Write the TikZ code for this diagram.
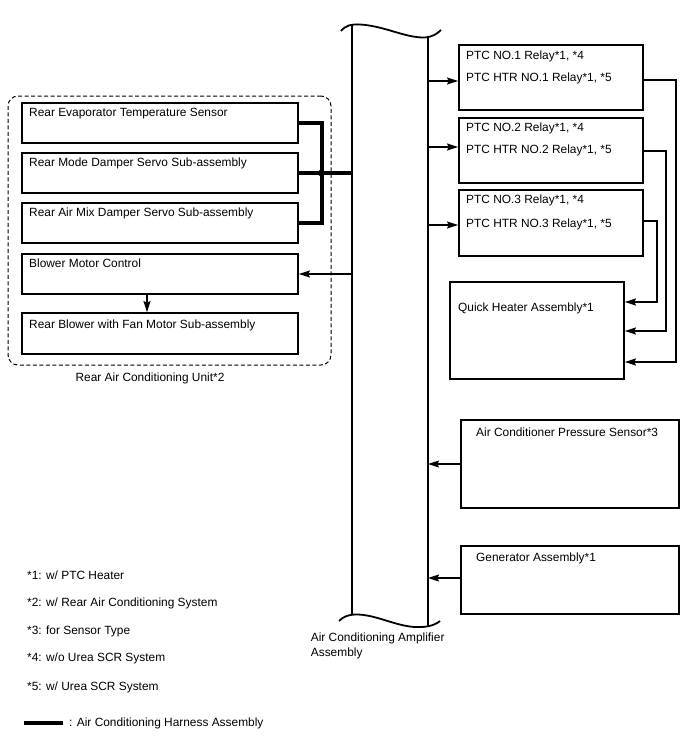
\documentclass[tikz,border=0pt]{standalone}
\usepackage{fontspec}
\setmainfont{Liberation Sans}
\usetikzlibrary{arrows.meta,intersections,calc}
\tikzset{
  box/.style={draw, line width=1.8pt, inner sep=0pt},
  txt/.style={anchor=base west, inner sep=0pt, font=\fontsize{11.9}{14}\selectfont},
  conn/.style={line width=1.2pt},
  arr/.style={conn, -{Stealth[length=11pt,width=7pt,inset=1.5pt]}},
  harness/.style={line width=4pt},
  ampline/.style={line width=1.8pt},
}
\begin{document}
\begin{tikzpicture}[x=1pt,y=-1pt]
\useasboundingbox (0,0) rectangle (688,755);

% ---- Rear air conditioning unit ----
\node[draw, line width=1pt, dash pattern=on 4pt off 2.5pt, rounded corners=10pt,
      minimum width=323, minimum height=269, inner sep=0pt] (unit) at (169.5,230.5) {};
\node[txt, anchor=base] (unitt) at (150,381) {Rear Air Conditioning Unit*2};

\node[box, minimum width=276, minimum height=40] (res) at (160,123) {};
\node[txt] (rest) at (29,116.6) {Rear Evaporator Temperature Sensor};
\node[box, minimum width=276, minimum height=40] (rmd) at (160,173) {};
\node[txt] (rmdt) at (29,166.6) {Rear Mode Damper Servo Sub-assembly};
\node[box, minimum width=276, minimum height=40] (ram) at (160,223) {};
\node[txt] (ramt) at (29,216.6) {Rear Air Mix Damper Servo Sub-assembly};
\node[box, minimum width=276, minimum height=40] (bmc) at (160,274) {};
\node[txt] (bmct) at (29,267) {Blower Motor Control};
\node[box, minimum width=276, minimum height=41] (rbf) at (160,333.5) {};
\node[txt] (rbft) at (29,328.6) {Rear Blower with Fan Motor Sub-assembly};

% ---- amplifier ----
\coordinate (ampL) at (352,0);
\coordinate (ampR) at (428,0);
\path[name path=Lv] (352,0) -- (352,755);
\path[name path=Rv] (428,0) -- (428,755);
\draw[ampline, name path=topw] (341,31) .. controls (346,25) and (352,24) .. (360,24.5)
   .. controls (385,26) and (405,38) .. (425,37.5) .. controls (432,37) and (437,34) .. (441,30);
\draw[ampline, name path=botw] (339,621) .. controls (343,617) and (347,615) .. (355,614.5)
   .. controls (375,614) and (395,626) .. (415,627) .. controls (425,627.5) and (434,626) .. (440,621);
\path[name intersections={of=Lv and topw, by=LT}];
\path[name intersections={of=Lv and botw, by=LB}];
\path[name intersections={of=Rv and topw, by=RT}];
\path[name intersections={of=Rv and botw, by=RB}];
\draw[ampline] (LT) -- (LB);
\draw[ampline] (RT) -- (RB);
\node[txt] (ampt1) at (310.7,641) {Air Conditioning Amplifier};
\node[txt] (ampt2) at (310.7,656) {Assembly};

% ---- harness ----
\coordinate (jn) at (321.5,173);
\draw[harness] (res.east) -| (jn) |- (ram.east);
\draw[harness] (rmd.east) -- (ampL |- rmd.east);
\fill (jn) circle (3.5);

% blower
\draw[arr] (ampL |- bmc.east) -- (bmc.east);
\draw[arr] ($(bmc.south)+(-13,0)$) -- ($(rbf.north)+(-13,0)$);

% ---- PTC relays ----
\node[box, minimum width=184, minimum height=65] (ptc1) at (551,77.5) {};
\node[txt] (ptc1a) at (466,59.3) {PTC NO.1 Relay*1, *4};
\node[txt] (ptc1b) at (466,81.3) {PTC HTR NO.1 Relay*1, *5};
\node[box, minimum width=184, minimum height=65] (ptc2) at (551,150.5) {};
\node[txt] (ptc2a) at (466,131) {PTC NO.2 Relay*1, *4};
\node[txt] (ptc2b) at (466,153.6) {PTC HTR NO.2 Relay*1, *5};
\node[box, minimum width=184, minimum height=66] (ptc3) at (551,223) {};
\node[txt] (ptc3a) at (466,203.6) {PTC NO.3 Relay*1, *4};
\node[txt] (ptc3b) at (466,227.6) {PTC HTR NO.3 Relay*1, *5};

\coordinate (i1) at (428,81);
\coordinate (i2) at (428,147);
\coordinate (i3) at (428,225);
\draw[arr] (i1) -- (ptc1.west |- i1);
\draw[arr] (i2) -- (ptc2.west |- i2);
\draw[arr] (i3) -- (ptc3.west |- i3);

% ---- quick heater ----
\node[box, minimum width=174, minimum height=97] (qh) at (537,330.5) {};
\node[txt] (qht) at (458,311.3) {Quick Heater Assembly*1};

\coordinate (o1) at (643,80);
\coordinate (o2) at (643,151);
\coordinate (o3) at (643,221);
\coordinate (q1) at (676,362);
\coordinate (q2) at (666,331);
\coordinate (q3) at (657,302);
\draw[arr] (ptc1.east |- o1) -| (q1) -- (qh.east |- q1);
\draw[arr] (ptc2.east |- o2) -| (q2) -- (qh.east |- q2);
\draw[arr] (ptc3.east |- o3) -| (q3) -- (qh.east |- q3);

% ---- sensors ----
\node[box, minimum width=218, minimum height=88] (aps) at (570,464) {};
\node[txt] (apst) at (476,436.6) {Air Conditioner Pressure Sensor*3};
\draw[arr] (aps.west) -- (ampR |- aps.west);
\node[box, minimum width=218, minimum height=68] (gen) at (570,580) {};
\node[txt] (gent) at (476,561.6) {Generator Assembly*1};
\coordinate (g1) at (461,578);
\draw[arr] (gen.west |- g1) -- (ampR |- g1);

% ---- legend ----
\node[txt] (n1) at (27,579.3) {*1: w/ PTC Heater};
\node[txt] (n2) at (27,606.6) {*2: w/ Rear Air Conditioning System};
\node[txt] (n3) at (27,634.3) {*3: for Sensor Type};
\node[txt] (n4) at (27,661) {*4: w/o Urea SCR System};
\node[txt] (n5) at (27,690.3) {*5: w/ Urea SCR System};
\coordinate (h1) at (24,722.7);
\coordinate (h2) at (63,722.7);
\draw[harness] (h1) -- (h2);
\node[txt] (ht) at (69,726.6) {: Air Conditioning Harness Assembly};
\end{tikzpicture}
\end{document}
